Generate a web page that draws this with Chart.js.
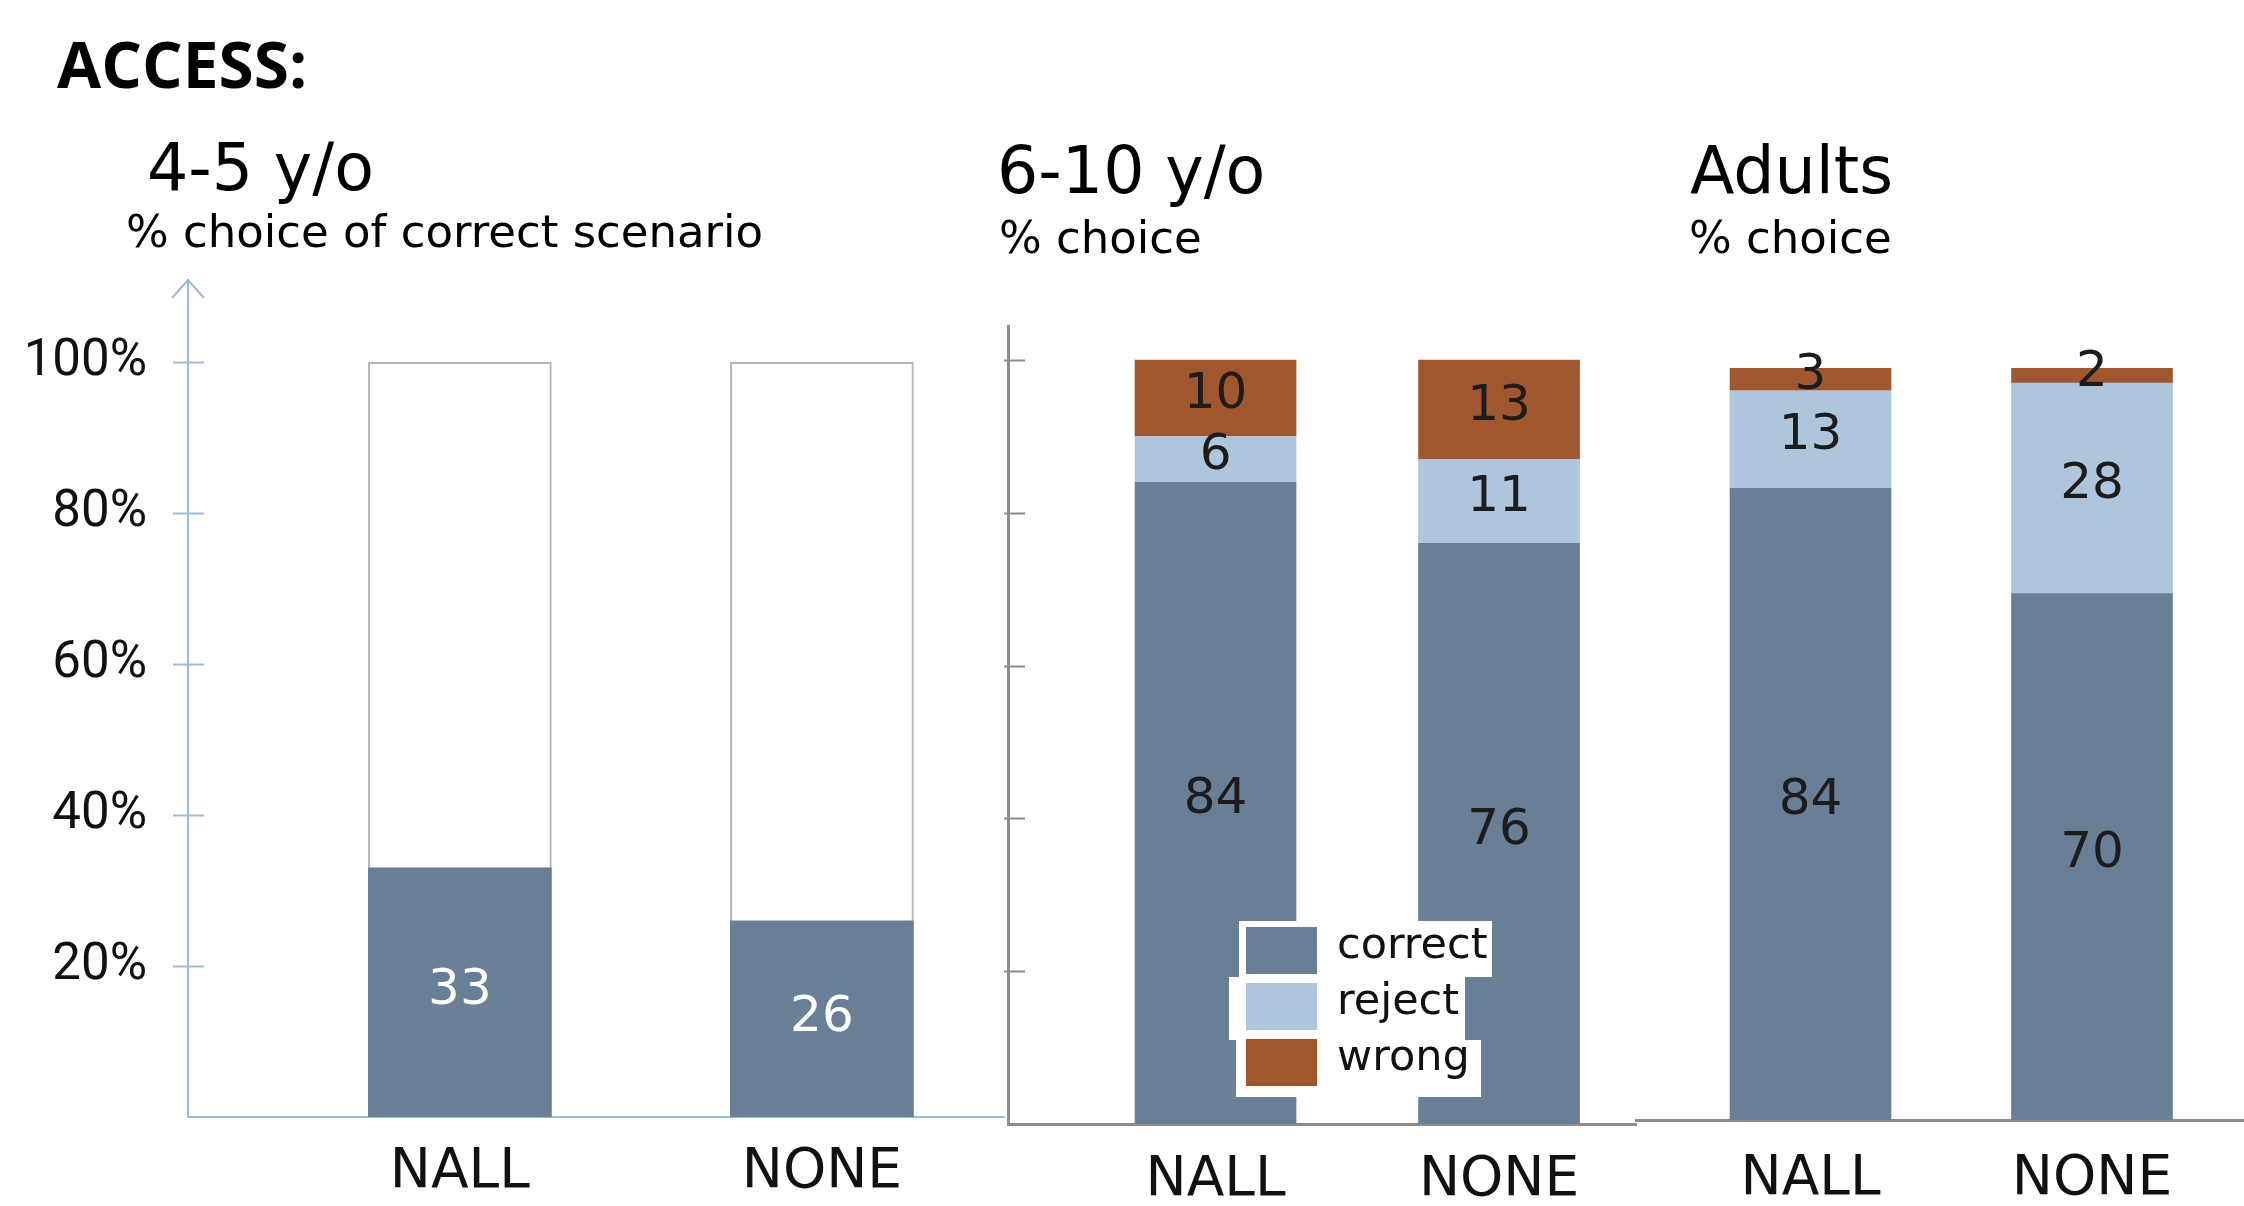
<!DOCTYPE html>
<html>
<head>
<meta charset="utf-8">
<script src="https://cdn.jsdelivr.net/npm/chart.js@4.4.1/dist/chart.umd.min.js"></script>
<style>
  html, body { margin: 0; padding: 0; background: #fff; }
  #page { position: relative; width: 2244px; height: 1206px; overflow: hidden; }
  canvas { position: absolute; left: 0; top: 0; }
  .t { position: absolute; white-space: nowrap; font-family: 'DejaVu Sans', sans-serif; color: #000; line-height: 1; }
</style>
</head>
<body>
<div id="page">
  <canvas id="kids45" width="2244" height="1206"></canvas>
  <canvas id="kids610" width="2244" height="1206"></canvas>
  <canvas id="adults" width="2244" height="1206"></canvas>

  <div class="t" style="left:57px;top:32px;font-family:'Open Sans',sans-serif;font-weight:700;font-size:64px">ACCESS:</div>
  <div class="t" style="left:147px;top:135px;font-size:65px">4-5 y/o</div>
  <div class="t" style="left:126px;top:209px;font-size:45px">% choice of correct scenario</div>
  <div class="t" style="left:997px;top:138px;font-size:65px">6-10 y/o</div>
  <div class="t" style="left:999px;top:215px;font-size:45px">% choice</div>
  <div class="t" style="left:1690px;top:138px;font-size:65px">Adults</div>
  <div class="t" style="left:1689px;top:215px;font-size:45px">% choice</div>
</div>

<script>
// categories and values
const categories = ["NALL", "NONE"];
const yTicks = [20, 40, 60, 80, 100];

const kids45Correct = [33, 26];
const kids45Total = [100, 100];

const kids610Correct = [84, 76];
const kids610Reject = [6, 11];
const kids610Wrong = [10, 13];

const adultCorrect = [84, 70];
const adultReject = [13, 28];
const adultWrong = [3, 2];

const COL_CORRECT = "#687f95";
const COL_REJECT = "#aec6dc";
const COL_WRONG = "#a0572d";

const pts = arr => arr.map((v, i) => ({ x: i, y: v }));

// value written in the middle of each bar segment
const segmentLabels = {
  id: "segmentLabels",
  afterDatasetsDraw(chart, args, o) {
    const ctx = chart.ctx;
    ctx.save();
    ctx.font = o.font;
    ctx.fillStyle = o.color;
    ctx.textAlign = "center";
    ctx.textBaseline = "middle";
    chart.data.datasets.forEach((ds, di) => {
      if (ds.noLabel) return;
      chart.getDatasetMeta(di).data.forEach((bar, i) => {
        const p = bar.getProps(["x", "y", "base"], true);
        ctx.fillText(String(ds.data[i].y), p.x, (p.y + p.base) / 2 + o.dy);
      });
    });
    ctx.restore();
  }
};

// small tick marks crossing the y axis, plus the arrow head on the first panel
const axisMarks = {
  id: "axisMarks",
  afterDraw(chart, args, o) {
    if (!o.show) return;
    const ys = chart.scales.y, ctx = chart.ctx;
    const ax = chart.chartArea.left;
    ctx.save();
    ctx.strokeStyle = o.color;
    ctx.lineWidth = o.width;
    yTicks.forEach(v => {
      const py = Math.round(ys.getPixelForValue(v)) + 0.5;
      ctx.beginPath();
      ctx.moveTo(ax + o.from, py);
      ctx.lineTo(ax + o.to, py);
      ctx.stroke();
    });
    if (o.arrow) {
      const t = chart.chartArea.top;
      ctx.beginPath();
      ctx.moveTo(ax - 16, t + 18);
      ctx.lineTo(ax, t);
      ctx.lineTo(ax + 16, t + 18);
      ctx.stroke();
    }
    ctx.restore();
  }
};

// legend box drawn over the 6-10 panel
const boxLegend = {
  id: "boxLegend",
  afterDraw(chart, args, o) {
    if (!o.show) return;
    const ctx = chart.ctx;
    ctx.save();
    ctx.fillStyle = "#fff";
    ctx.fillRect(1239, 921, 253, 56);
    ctx.fillRect(1229, 977, 236, 63);
    ctx.fillRect(1236, 1040, 245, 57);
    ctx.font = "43px 'DejaVu Sans'";
    ctx.textBaseline = "middle";
    ctx.textAlign = "left";
    chart.data.datasets.forEach((ds, i) => {
      const cy = 950 + i * 56;
      ctx.fillStyle = ds.backgroundColor;
      ctx.fillRect(1246, cy - 23, 71, 47);
      ctx.fillStyle = "#111";
      ctx.fillText(ds.label, 1337, cy - 3);
    });
    ctx.restore();
  }
};

function xScale(min, max, boxHeight, pad, borderColor, borderWidth) {
  return {
    type: "linear",
    bounds: "data",
    offset: false,
    min: min,
    max: max,
    stacked: true,
    afterBuildTicks: s => { s.ticks = categories.map((c, i) => ({ value: i })); },
    afterFit: s => { s.height = boxHeight; },
    grid: { display: false, offset: false },
    border: { display: true, color: borderColor, width: borderWidth },
    ticks: {
      callback: v => categories[v],
      padding: pad,
      color: "#111",
      maxRotation: 0,
      autoSkip: false,
      font: { family: "DejaVu Sans", size: 55 }
    }
  };
}

function area(left, top, right, bottom) {
  return { padding: { left: left, top: top, right: 2244 - right, bottom: bottom } };
}

// 4-5 year olds
new Chart(document.getElementById("kids45"), {
  type: "bar",
  data: {
    datasets: [
      { label: "correct", data: pts(kids45Correct), backgroundColor: COL_CORRECT, borderWidth: 0, barThickness: 183, order: 1 },
      { label: "total", data: pts(kids45Total), backgroundColor: "#fff", borderColor: "#b4b4b4", borderWidth: 2, barThickness: 183, order: 2, noLabel: true }
    ]
  },
  options: {
    responsive: false,
    animation: false,
    // y axis box is 188 wide, x axis box is 89 high (1206 - 1117)
    layout: area(0, 280, 1004, 0),
    scales: {
      x: xScale(-0.751, 1.503, 89, 15, "#9dbbd6", 2),
      y: {
        min: 0,
        max: 110.9,
        stacked: false,
        afterBuildTicks: s => { s.ticks = yTicks.map(v => ({ value: v })); },
        afterFit: s => { s.width = 188; },
        grid: { display: false },
        border: { display: true, color: "#9dbbd6", width: 2 },
        ticks: {
          callback: v => v + "%",
          padding: 33,
          color: "#111",
          autoSkip: false,
          font: { family: "Roboto", size: 51 }
        }
      }
    },
    plugins: {
      legend: { display: false },
      tooltip: { enabled: false },
      segmentLabels: { font: "50px 'DejaVu Sans'", color: "#fff", dy: -1 },
      axisMarks: { show: true, color: "#9dbbd6", width: 2, from: -15, to: 16, arrow: true },
      boxLegend: { show: false }
    }
  },
  plugins: [segmentLabels, axisMarks, boxLegend]
});

// 6-10 year olds
new Chart(document.getElementById("kids610"), {
  type: "bar",
  data: {
    datasets: [
      { label: "correct", data: pts(kids610Correct), backgroundColor: COL_CORRECT, barThickness: 161 },
      { label: "reject", data: pts(kids610Reject), backgroundColor: COL_REJECT, barThickness: 161 },
      { label: "wrong", data: pts(kids610Wrong), backgroundColor: COL_WRONG, barThickness: 161 }
    ]
  },
  options: {
    responsive: false,
    animation: false,
    layout: area(1008, 326, 1636, 0),
    scales: {
      x: xScale(-0.732, 1.483, 82, 16, "#8c8c8c", 3),
      y: {
        min: 0,
        max: 104.45,
        stacked: true,
        afterFit: s => { s.width = 0; },
        grid: { display: false },
        border: { display: true, color: "#8c8c8c", width: 3 },
        ticks: { display: false }
      }
    },
    plugins: {
      legend: { display: false },
      tooltip: { enabled: false },
      segmentLabels: { font: "50px 'DejaVu Sans'", color: "#1c1c1c", dy: -3 },
      axisMarks: { show: true, color: "#8c8c8c", width: 2, from: -4, to: 17, arrow: false },
      boxLegend: { show: true }
    }
  },
  plugins: [segmentLabels, axisMarks, boxLegend]
});

// adults
new Chart(document.getElementById("adults"), {
  type: "bar",
  data: {
    datasets: [
      { label: "correct", data: pts(adultCorrect), backgroundColor: COL_CORRECT, barThickness: 161 },
      { label: "reject", data: pts(adultReject), backgroundColor: COL_REJECT, barThickness: 161 },
      { label: "wrong", data: pts(adultWrong), backgroundColor: COL_WRONG, barThickness: 161 }
    ]
  },
  options: {
    responsive: false,
    animation: false,
    layout: area(1636, 368, 2244, 0),
    scales: {
      x: xScale(-0.62, 1.54, 86, 19, "#8c8c8c", 3),
      y: {
        display: false,
        min: 0,
        max: 100,
        stacked: true
      }
    },
    plugins: {
      legend: { display: false },
      tooltip: { enabled: false },
      segmentLabels: { font: "50px 'DejaVu Sans'", color: "#1c1c1c", dy: -3 },
      axisMarks: { show: false },
      boxLegend: { show: false }
    }
  },
  plugins: [segmentLabels, axisMarks, boxLegend]
});
</script>
</body>
</html>
